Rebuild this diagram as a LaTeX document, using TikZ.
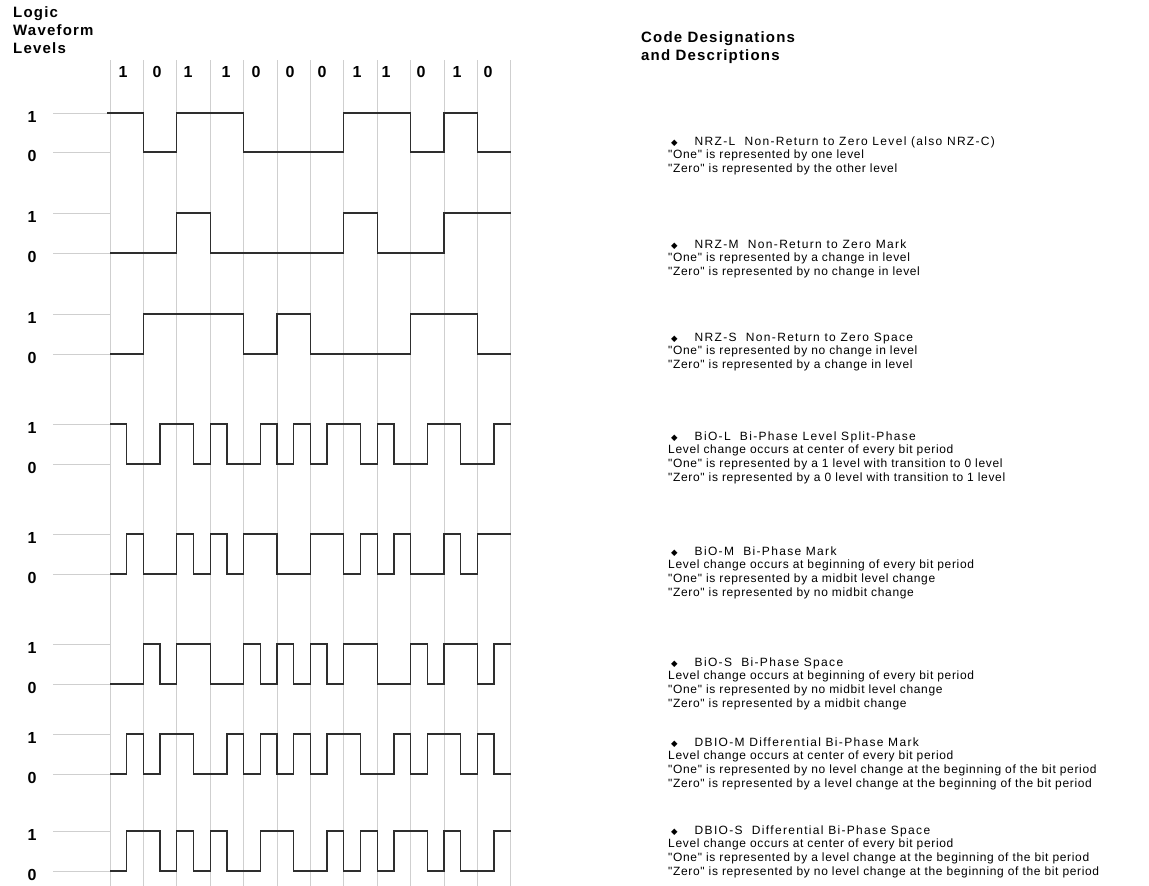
\documentclass[tikz,border=0pt]{standalone}
\usepackage{fontspec}
\setmainfont{Liberation Sans}
\newfontfamily\bodyf[LetterSpace=5.5]{Liberation Sans}
\newfontfamily\titlef[LetterSpace=11]{Liberation Sans}
\newfontfamily\headf[LetterSpace=8]{Liberation Sans}
\newfontfamily\digf[LetterSpace=0]{Liberation Sans}
\newfontfamily\symf{DejaVu Sans}
\definecolor{gridc}{HTML}{CFCFCF}
\definecolor{wavec}{HTML}{2E2E2E}
\newcommand\wavep[5]{\draw[wave] (#5,{#2+(#1-#2)*#3}) -- (110,{#2+(#1-#2)*#3}) \foreach \l [count=\i from 0] in {#4} { -- ({110+16.7*\i},{#2+(#1-#2)*\l}) -- ({110+16.7*(\i+1)},{#2+(#1-#2)*\l}) };}
\newcommand\dia{{\symf\fontsize{8.5}{8.5}\selectfont ◆}\hspace{17pt}}
\begin{document}
\begin{tikzpicture}[x=1pt,y=-1pt,
  gridline/.style={draw=gridc, line width=1pt},
  wave/.style={draw=wavec, line width=1.35pt, line join=miter},
  hdr/.style={font=\headf\bfseries\fontsize{15}{18}\selectfont, inner sep=0pt, anchor=base west},
  lvl/.style={font=\digf\bfseries\fontsize{16}{18}\selectfont, inner sep=0pt},
  body/.style={font=\bodyf\fontsize{12}{13.7}\selectfont, inner sep=0pt, anchor=base west},
  ttl/.style={font=\titlef\fontsize{12}{13.7}\selectfont, inner sep=0pt, anchor=base west}]
\useasboundingbox[fill=white] (0,0) rectangle (1149,886);

% vertical bit grid
\foreach \k in {0,...,12} \draw[gridline] ({110+33.4*\k},60) -- ({110+33.4*\k},886);

% level reference lines and labels
\foreach \a/\b [count=\r] in {113/152,213/253,314/354,424/464,534/574,644/684,734/774,831/871} {
  \draw[gridline] (53,\a) -- (110,\a);
  \draw[gridline] (53,\b) -- (110,\b);
  \node[lvl] (one\r) at (32,\a+4) {1};
  \node[lvl] (zero\r) at (32,\b+4) {0};
}

% headers
\node[hdr] (hLogic) at (13,17.5) {Logic};
\node[hdr] (hWave) at (13,35.5) {Waveform};
\node[hdr] (hLev) at (13,53.5) {Levels};
\node[hdr] (hCode) at (641,42.5) {Code Designations};
\node[hdr] (hDesc) at (641,60.5) {and Descriptions};

% bit sequence
\foreach \x/\b [count=\k] in {123/1,157/0,188/1,226/1,256/0,290/0,322/0,357/1,386/1,421/0,457/1,488/0}
  \node[lvl] (bit\k) at (\x,72) {\b};

% waveforms
\wavep{113}{152}{1}{1,1,0,0,1,1,1,1,0,0,0,0,0,0,1,1,1,1,0,0,1,1,0,0}{107}
\wavep{213}{253}{0}{0,0,0,0,1,1,0,0,0,0,0,0,0,0,1,1,0,0,0,0,1,1,1,1}{110}
\wavep{314}{354}{0}{0,0,1,1,1,1,1,1,0,0,1,1,0,0,0,0,0,0,1,1,1,1,0,0}{110}
\wavep{424}{464}{1}{1,0,0,1,1,0,1,0,0,1,0,1,0,1,1,0,1,0,0,1,1,0,0,1}{110}
\wavep{534}{574}{0}{0,1,0,0,1,0,1,0,1,1,0,0,1,1,0,1,0,1,0,0,1,0,1,1}{110}
\wavep{644}{684}{0}{0,0,1,0,1,1,0,0,1,0,1,0,1,0,1,1,0,0,1,0,1,1,0,1}{110}
\wavep{734}{774}{0}{0,1,0,1,1,0,0,1,0,1,0,1,0,1,1,0,0,1,0,1,1,0,1,0}{110}
\wavep{831}{871}{0}{0,1,1,0,1,0,1,0,0,1,1,0,0,1,0,1,0,1,1,0,1,0,0,1}{110}

% descriptions
\node[ttl] (d1t) at (671,145) {\dia NRZ-L\ \ Non-Return to Zero Level (also NRZ-C)};
\node[body] (d1a) at (668,158.7) {"One" is represented by one level};
\node[body] (d1b) at (668,172.4) {"Zero" is represented by the other level};

\node[ttl] (d2t) at (671,248) {\dia NRZ-M\ \ Non-Return to Zero Mark};
\node[body] (d2a) at (668,261.7) {"One" is represented by a change in level};
\node[body] (d2b) at (668,275.4) {"Zero" is represented by no change in level};

\node[ttl] (d3t) at (671,341) {\dia NRZ-S\ \ Non-Return to Zero Space};
\node[body] (d3a) at (668,354.7) {"One" is represented by no change in level};
\node[body] (d3b) at (668,368.4) {"Zero" is represented by a change in level};

\node[ttl] (d4t) at (671,440) {\dia BiO-L\ \ Bi-Phase Level\ Split-Phase};
\node[body] (d4a) at (668,453.7) {Level change occurs at center of every bit period};
\node[body] (d4b) at (668,467.4) {"One" is represented by a 1 level with transition to 0 level};
\node[body] (d4c) at (668,481.1) {"Zero" is represented by a 0 level with transition to 1 level};

\node[ttl] (d5t) at (671,555) {\dia BiO-M\ \ Bi-Phase Mark};
\node[body] (d5a) at (668,568.7) {Level change occurs at beginning of every bit period};
\node[body] (d5b) at (668,582.4) {"One" is represented by a midbit level change};
\node[body] (d5c) at (668,596.1) {"Zero" is represented by no midbit change};

\node[ttl] (d6t) at (671,666) {\dia BiO-S\ \ Bi-Phase Space};
\node[body] (d6a) at (668,679.7) {Level change occurs at beginning of every bit period};
\node[body] (d6b) at (668,693.4) {"One" is represented by no midbit level change};
\node[body] (d6c) at (668,707.1) {"Zero" is represented by a midbit change};

\node[ttl] (d7t) at (671,746) {\dia DBIO-M Differential Bi-Phase Mark};
\node[body] (d7a) at (668,759.7) {Level change occurs at center of every bit period};
\node[body] (d7b) at (668,773.4) {"One" is represented by no level change at the beginning of the bit period};
\node[body] (d7c) at (668,787.1) {"Zero" is represented by a level change at the beginning of the bit period};

\node[ttl] (d8t) at (671,834) {\dia DBIO-S\ \ Differential Bi-Phase Space};
\node[body] (d8a) at (668,847.7) {Level change occurs at center of every bit period};
\node[body] (d8b) at (668,861.4) {"One" is represented by a level change at the beginning of the bit period};
\node[body] (d8c) at (668,875.1) {"Zero" is represented by no level change at the beginning of the bit period};
\end{tikzpicture}
\end{document}
